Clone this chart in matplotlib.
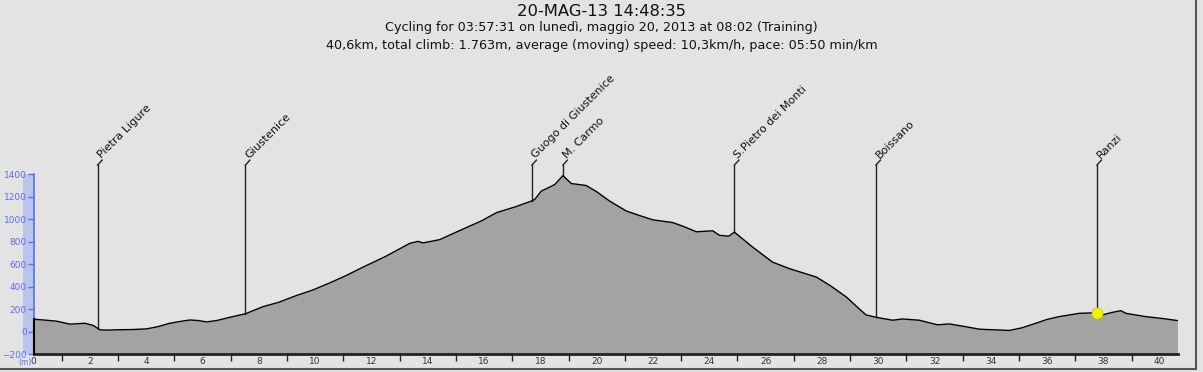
import numpy as np
import matplotlib
matplotlib.use('Agg')
import matplotlib.pyplot as plt
from matplotlib.patches import Rectangle
from matplotlib.lines import Line2D

# profilo altimetrico (km, m)
km = [0.0, 0.34, 0.8, 1.29, 1.82, 2.12, 2.35, 2.6, 2.95, 3.5, 4.01, 4.4, 4.84, 5.2, 5.55,
      5.85, 6.14, 6.5, 6.97, 7.52, 8.14, 8.7, 9.34, 9.9, 10.52, 11.1, 11.7, 12.5, 13.36,
      13.65, 13.83, 14.42, 15.25, 15.9, 16.44, 17.1, 17.68, 17.8, 18.03, 18.51, 18.8,
      19.1, 19.63, 20.0, 20.46, 21.05, 21.5, 22.0, 22.7, 23.1, 23.54, 24.12, 24.36,
      24.69, 24.89, 25.55, 26.25, 26.85, 27.8, 28.3, 28.86, 29.33, 29.57, 29.92, 30.51,
      30.87, 31.46, 32.11, 32.53, 33.0, 33.6, 34.66, 35.1, 35.6, 36.0, 36.43, 37.14,
      37.77, 37.97, 38.3, 38.62, 38.8, 39.5, 40.1, 40.63]
quota = [112, 105, 95, 68, 76, 56, 18, 15, 18, 20, 26, 45, 76, 92, 105,
         100, 88, 100, 129, 160, 223, 262, 323, 370, 435, 500, 575, 670, 786,
         804, 790, 819, 913, 985, 1059, 1110, 1162, 1177, 1250, 1309, 1388,
         1318, 1300, 1245, 1162, 1074, 1035, 995, 971, 935, 889, 898, 858,
         850, 886, 751, 619, 561, 487, 410, 311, 203, 150, 129, 103,
         114, 103, 62, 70, 50, 23, 12, 35, 76, 110, 135, 164,
         170, 150, 172, 188, 164, 135, 118, 100]

# localita (nome, km)
luoghi = ['Pietra Ligure', 'Giustenice', 'Guogo di Giustenice', 'M. Carmo',
          'S.Pietro dei Monti', 'Boissano', 'Ranzi']
luoghi_km = [2.27, 7.52, 17.70, 18.80, 24.89, 29.92, 37.77]

titolo = '20-MAG-13 14:48:35'
riga2 = 'Cycling for 03:57:31 on lunedì, maggio 20, 2013 at 08:02 (Training)'
riga3 = '40,6km, total climb: 1.763m, average (moving) speed: 10,3km/h, pace: 05:50 min/km'

W, H = 1203, 372
bg = '#e3e3e3'
blu = '#5b6df2'

fig = plt.figure(figsize=(W / 100, H / 100), dpi=100, facecolor=bg)
ax_w = 1178 - 33.7
ax = fig.add_axes([33.7 / W, 17.7 / H, ax_w / W, 180 / H])
ax.set_facecolor(bg)
ax.set_xlim(0, 40.65)
ax.set_ylim(-200, 1400)

# banda azzurra dietro l'asse y
ax.add_patch(Rectangle((-10.5 / ax_w, 0), 10.5 / ax_w, 1, transform=ax.transAxes,
                       facecolor='#bac5ec', edgecolor='none', zorder=0.5, clip_on=False))

ax.fill_between(km, quota, -200, color='#a3a3a3', lw=0, zorder=2)
ax.plot(km, quota, color='black', lw=1.0, zorder=4)
ax.plot([0, 0], [-200, quota[0]], color='black', lw=1.5, zorder=5, clip_on=False)

# linee verso i nomi
top = 1482
for nome, k in zip(luoghi, luoghi_km):
    q = np.interp(k, km, quota)
    ax.plot([k, k], [q, top], color='#222222', lw=1.0, zorder=3, clip_on=False)
    ax.plot([k, k + 0.16], [top, top + 44], color='#222222', lw=1.0, zorder=3, clip_on=False)
    ax.text(k + 0.18, top + 44, nome, rotation=45, rotation_mode='anchor',
            ha='left', va='bottom', fontsize=8, color='#111111', clip_on=False)

ax.plot([luoghi_km[-1]], [np.interp(luoghi_km[-1], km, quota)], 'o', ms=8,
        color='#f2f200', mec='#cccc00', mew=0.6, zorder=6)

# assi
for s in ['top', 'right']:
    ax.spines[s].set_visible(False)
ax.spines['left'].set_color(blu)
ax.spines['left'].set_linewidth(1.2)
ax.spines['bottom'].set_color('#222222')
ax.spines['bottom'].set_linewidth(2)

ax.set_yticks(np.arange(-200, 1401, 200))
ax.tick_params(axis='y', colors=blu, labelsize=6.5, length=4, width=1, pad=1)
ax.set_xticks(np.arange(0, 41, 2))
ax.set_xticks(np.arange(1, 41, 2), minor=True)
ax.tick_params(axis='x', which='major', length=0, labelsize=6.5, labelcolor='#333333', pad=2)
ax.tick_params(axis='x', which='minor', length=5, width=1, color='#222222')

fig.text(18 / W, 1 - 362 / H, '(m)', fontsize=5.5, color=blu, ha='left', va='center')

fig.text(0.5, 1 - 11 / H, titolo, ha='center', va='center', fontsize=11.8, color='#111111')
fig.text(0.5, 1 - 27 / H, riga2, ha='center', va='center', fontsize=9.2, color='#111111')
fig.text(0.5, 1 - 45 / H, riga3, ha='center', va='center', fontsize=9.2, color='#111111')

# cornice finestra
fig.lines.append(Line2D([0, 1196 / W], [1 - 369 / H, 1 - 369 / H], transform=fig.transFigure,
                        color='#555555', lw=1.5))
fig.lines.append(Line2D([1196 / W, 1196 / W], [1 - 369 / H, 1], transform=fig.transFigure,
                        color='#555555', lw=1.5))

fig.savefig('out.png', dpi=100, facecolor=bg)
